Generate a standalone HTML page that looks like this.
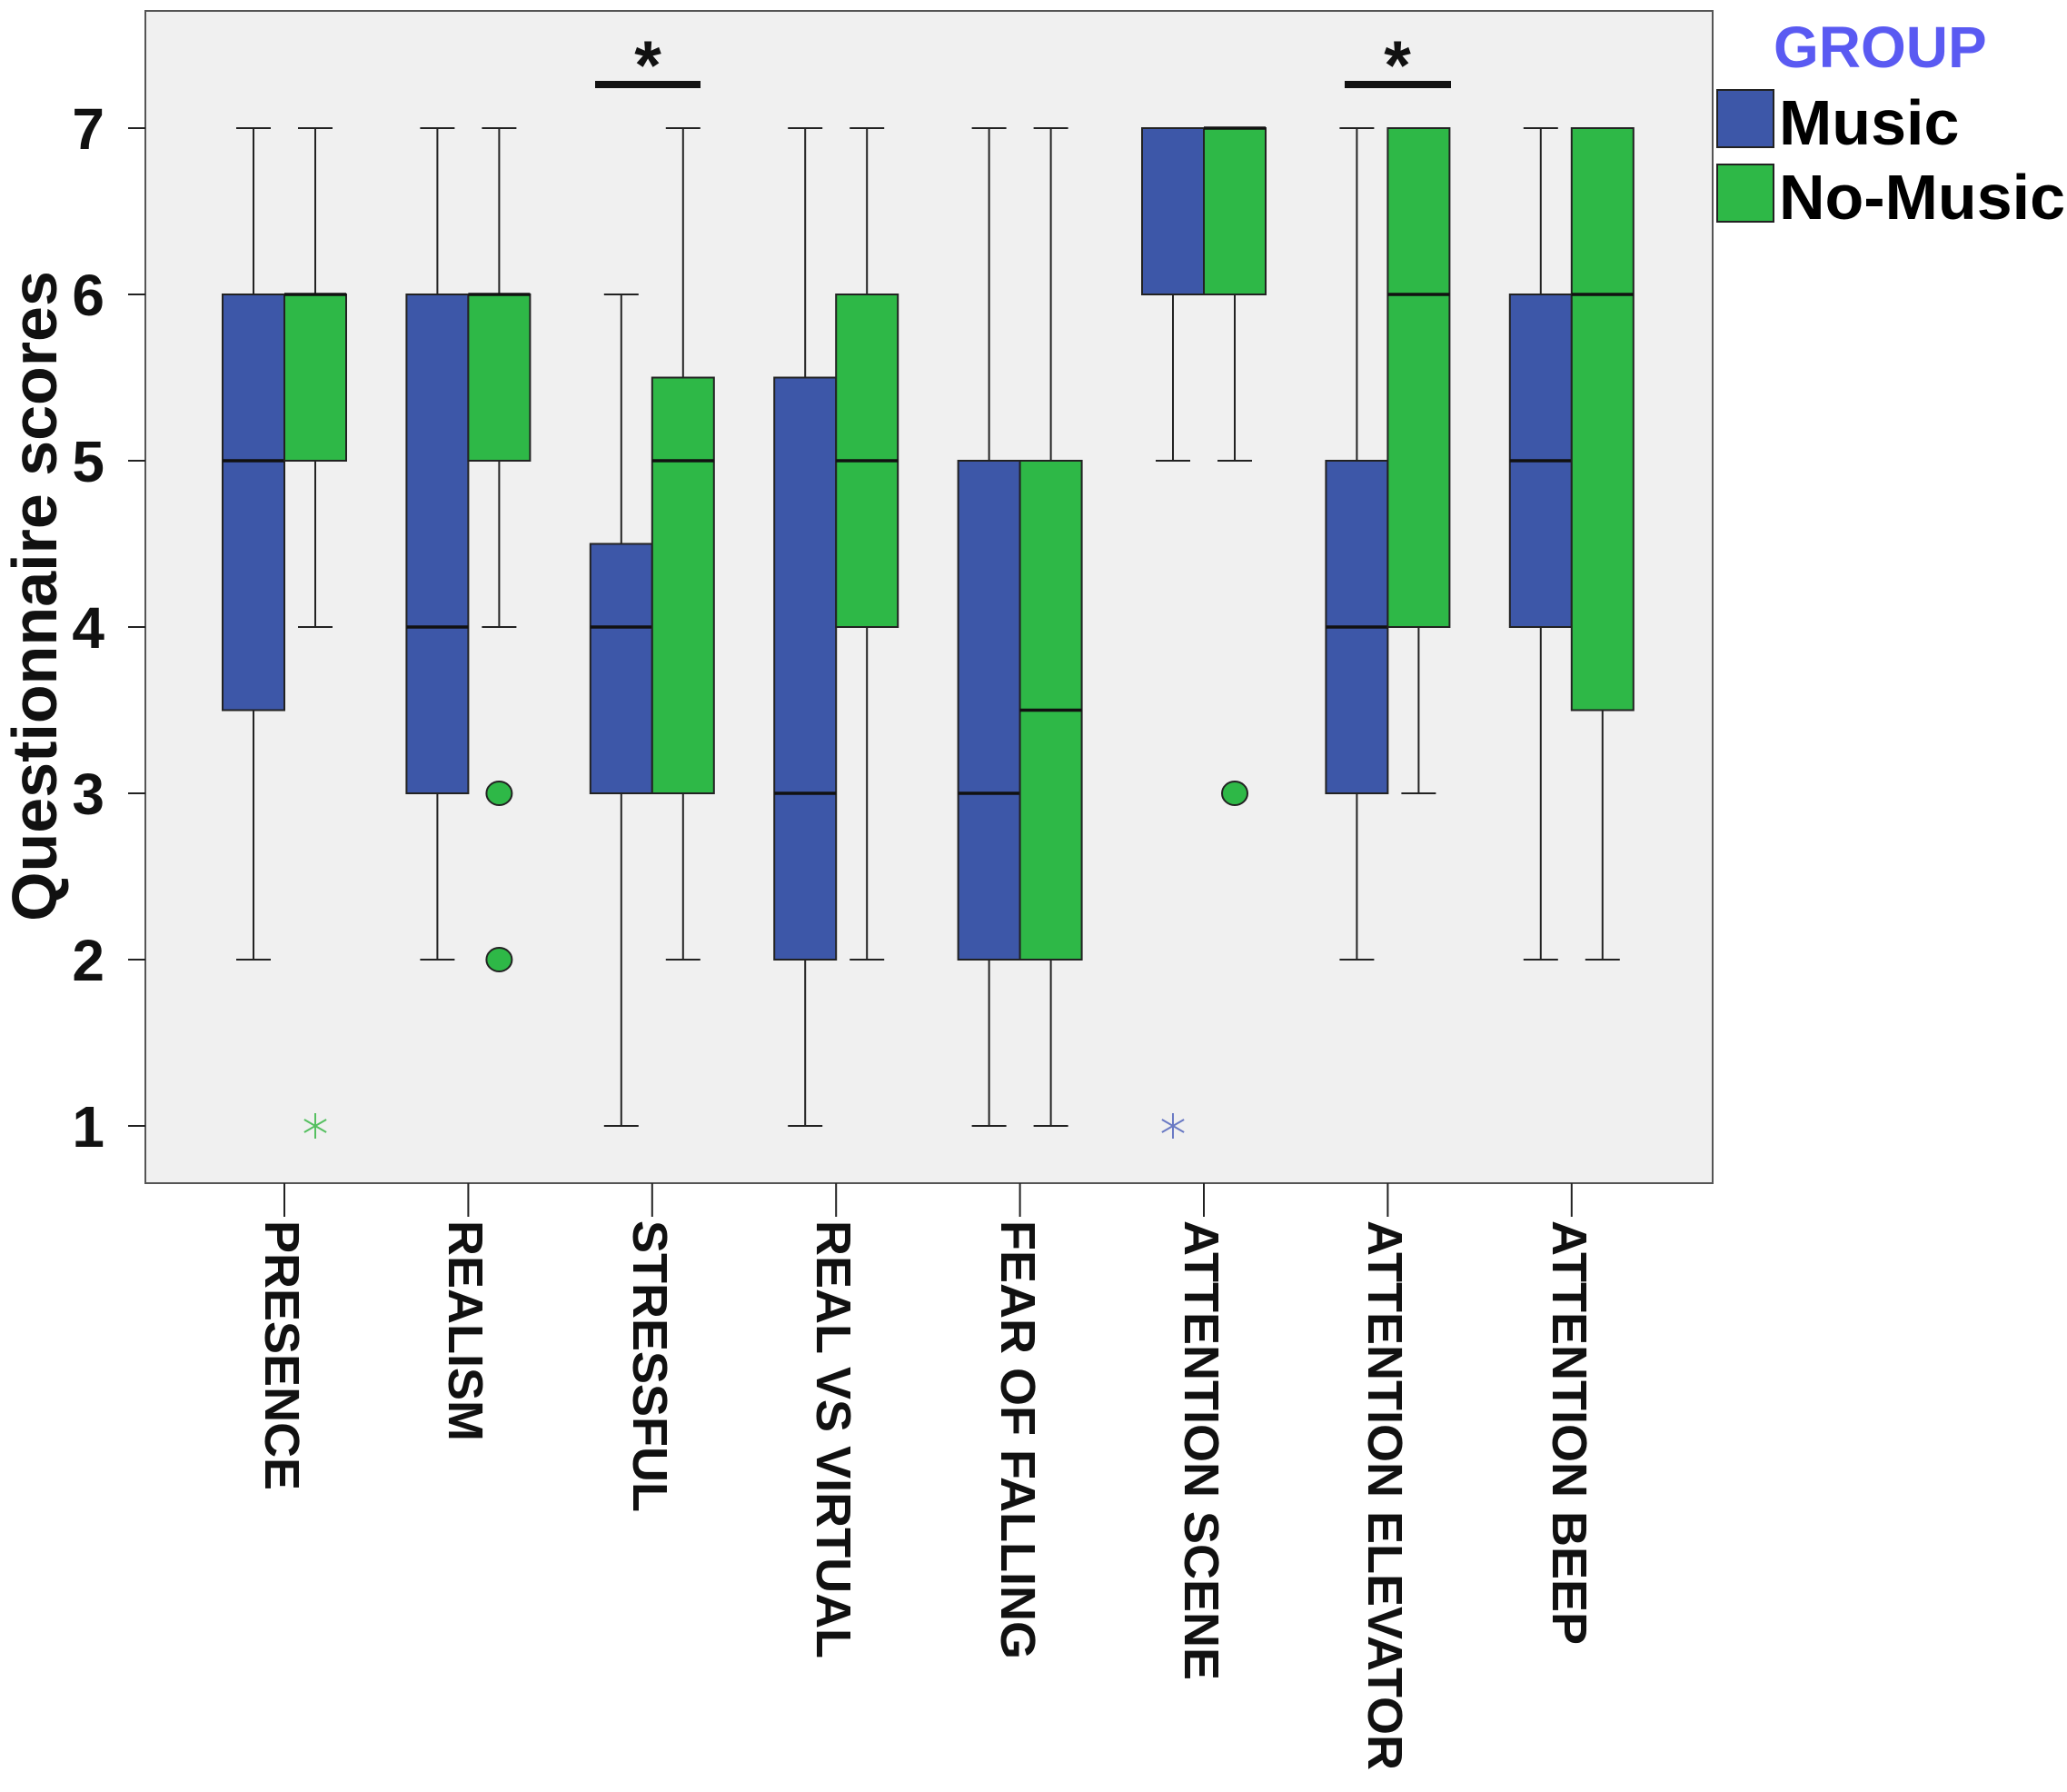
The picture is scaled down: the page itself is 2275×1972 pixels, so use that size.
<!DOCTYPE html>
<html><head><meta charset="utf-8"><style>
html,body{margin:0;padding:0;background:#fff;}
svg{display:block;font-family:"Liberation Sans",Arial,sans-serif;}
</style></head><body>
<svg id="s" width="2275" height="1972" viewBox="0 0 2275 1972" xmlns="http://www.w3.org/2000/svg">
<rect x="160" y="12" width="1725" height="1290" fill="#f0f0f0" stroke="#555" stroke-width="2"/>
<g id="ticks" stroke="#222" stroke-width="2"></g>
<g id="boxes"></g>
<g font-weight="bold" font-size="64" text-anchor="end" fill="#111">
<text x="115" y="164">7</text><text x="115" y="347">6</text><text x="115" y="530">5</text>
<text x="115" y="713">4</text><text x="115" y="896">3</text><text x="115" y="1079">2</text><text x="115" y="1262">1</text>
</g>
<text transform="translate(62,656) rotate(-90)" font-size="70" font-weight="bold" text-anchor="middle" fill="#111">Questionnaire scores</text>
<g font-weight="bold" font-size="54" fill="#111">
<text transform="translate(292,1343) rotate(90)">PRESENCE</text>
<text transform="translate(494,1343) rotate(90)">REALISM</text>
<text transform="translate(697,1343) rotate(90)">STRESSFUL</text>
<text transform="translate(899,1343) rotate(90)">REAL VS VIRTUAL</text>
<text transform="translate(1102,1343) rotate(90)">FEAR OF FALLING</text>
<text transform="translate(1304,1343) rotate(90)">ATTENTION SCENE</text>
<text transform="translate(1506,1343) rotate(90)">ATTENTION ELEVATOR</text>
<text transform="translate(1709,1343) rotate(90)">ATTENTION BEEP</text>
</g>
<rect x="655" y="89" width="116" height="8" fill="#111"/>
<text x="713" y="98" font-size="76" font-weight="bold" text-anchor="middle" fill="#111">*</text>
<rect x="1480" y="89" width="117" height="8" fill="#111"/>
<text x="1538" y="98" font-size="76" font-weight="bold" text-anchor="middle" fill="#111">*</text>
<text x="1952" y="74" font-size="64" font-weight="bold" fill="#5a5af2">GROUP</text>
<rect x="1890" y="99" width="62" height="63" fill="#3d57a8" stroke="#222" stroke-width="2"/>
<rect x="1890" y="181" width="62" height="63" fill="#2eb847" stroke="#222" stroke-width="2"/>
<text x="1958" y="159" font-size="70" font-weight="bold" fill="#000">Music</text>
<text x="1958" y="241" font-size="70" font-weight="bold" fill="#000">No-Music</text>
</svg>
<script>
var NS="http://www.w3.org/2000/svg";
function y(v){return 1239-183*(v-1);}
function el(p,t,a){var e=document.createElementNS(NS,t);for(var k in a)e.setAttribute(k,a[k]);p.appendChild(e);return e;}
var T=document.getElementById("ticks"),B=document.getElementById("boxes");
for(var v=1;v<=7;v++)el(T,"line",{x1:141,x2:160,y1:y(v),y2:y(v)});
var D=[[[2,3.5,5,6,7],[4,5,6,6,7]],[[2,3,4,6,7],[4,5,6,6,7]],[[1,3,4,4.5,6],[2,3,5,5.5,7]],[[1,2,3,5.5,7],[2,4,5,6,7]],
[[1,2,3,5,7],[1,2,3.5,5,7]],[[5,6,null,7,7],[5,6,7,7,7]],[[2,3,4,5,7],[3,4,6,7,7]],[[2,4,5,6,7],[2,3.5,6,7,7]]];
var col=["#3d57a8","#2eb847"];
for(var i=0;i<8;i++){var c=313+202.4*i;
el(T,"line",{x1:c,x2:c,y1:1302,y2:1339});
for(var g=0;g<2;g++){var d=D[i][g],x0=g?c:c-68,xm=x0+34;
el(B,"line",{x1:xm,x2:xm,y1:y(d[0]),y2:y(d[1]),stroke:"#222","stroke-width":2});
el(B,"line",{x1:xm,x2:xm,y1:y(d[3]),y2:y(d[4]),stroke:"#222","stroke-width":2});
el(B,"line",{x1:xm-19,x2:xm+19,y1:y(d[0]),y2:y(d[0]),stroke:"#222","stroke-width":2});
el(B,"line",{x1:xm-19,x2:xm+19,y1:y(d[4]),y2:y(d[4]),stroke:"#222","stroke-width":2});
el(B,"rect",{x:x0,y:y(d[3]),width:68,height:y(d[1])-y(d[3]),fill:col[g],stroke:"#222","stroke-width":2});
if(d[2]!==null)el(B,"line",{x1:x0,x2:x0+68,y1:y(d[2]),y2:y(d[2]),stroke:"#111","stroke-width":3.5});
}}
function circ(x,v){el(B,"ellipse",{cx:x,cy:y(v),rx:14,ry:13,fill:"#2eb847",stroke:"#222","stroke-width":2});}
circ(549.4,3);circ(549.4,2);circ(1359,3);
function star(x,v,c){var cy=y(v),r=14;for(var a=0;a<3;a++){var t=Math.PI/2+a*Math.PI/3;
el(B,"line",{x1:x-r*Math.cos(t),y1:cy-r*Math.sin(t),x2:x+r*Math.cos(t),y2:cy+r*Math.sin(t),stroke:c,"stroke-width":2});}}
star(347,1,"#55c060");star(1291,1,"#6a7ac4");
</script>
</body></html>
